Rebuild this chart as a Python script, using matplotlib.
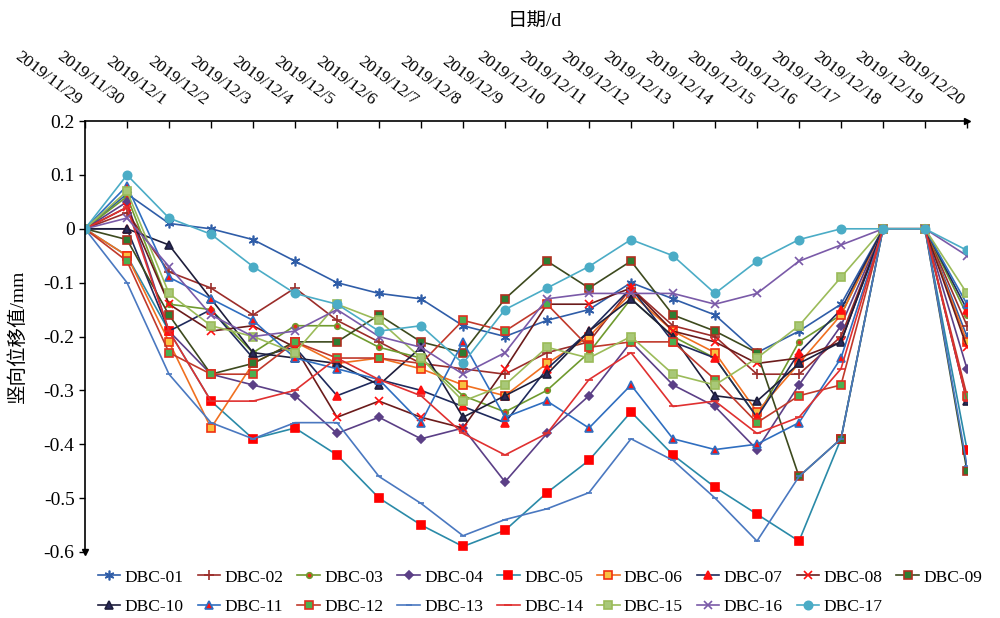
import numpy as np
import matplotlib
matplotlib.use('Agg')
import matplotlib.pyplot as plt
from matplotlib.transforms import ScaledTranslation

plt.rcParams['font.family'] = ['Liberation Serif', 'Noto Sans CJK SC']

dates = ['2019/11/29', '2019/11/30', '2019/12/1', '2019/12/2', '2019/12/3', '2019/12/4',
         '2019/12/5', '2019/12/6', '2019/12/7', '2019/12/8', '2019/12/9', '2019/12/10',
         '2019/12/11', '2019/12/12', '2019/12/13', '2019/12/14', '2019/12/15', '2019/12/16',
         '2019/12/17', '2019/12/18', '2019/12/19', '2019/12/20']

d01 = [0, 0.065, 0.01, 0.0, -0.02, -0.06, -0.10, -0.12, -0.13, -0.18, -0.20, -0.17, -0.15, -0.10, -0.13, -0.16, -0.23, -0.19, -0.14, 0, 0, -0.20]
d02 = [0, 0.03, -0.08, -0.11, -0.16, -0.11, -0.17, -0.21, -0.25, -0.26, -0.27, -0.23, -0.21, -0.11, -0.18, -0.20, -0.27, -0.27, -0.20, 0, 0, -0.18]
d03 = [0, 0.06, -0.14, -0.15, -0.23, -0.18, -0.18, -0.22, -0.24, -0.31, -0.34, -0.30, -0.23, -0.13, -0.20, -0.24, -0.35, -0.21, -0.16, 0, 0, -0.16]
d04 = [0, 0.05, -0.19, -0.27, -0.29, -0.31, -0.38, -0.35, -0.39, -0.37, -0.47, -0.38, -0.31, -0.21, -0.29, -0.33, -0.41, -0.29, -0.18, 0, 0, -0.26]
d05 = [0, -0.05, -0.19, -0.32, -0.39, -0.37, -0.42, -0.50, -0.55, -0.59, -0.56, -0.49, -0.43, -0.34, -0.42, -0.48, -0.53, -0.58, -0.39, 0, 0, -0.41]
d06 = [0, -0.05, -0.21, -0.37, -0.25, -0.21, -0.25, -0.24, -0.26, -0.29, -0.31, -0.25, -0.20, -0.12, -0.19, -0.23, -0.34, -0.25, -0.16, 0, 0, -0.21]
d07 = [0, 0.0, -0.19, -0.15, -0.24, -0.22, -0.31, -0.28, -0.30, -0.33, -0.36, -0.26, -0.19, -0.11, -0.21, -0.24, -0.35, -0.23, -0.15, 0, 0, -0.15]
d08 = [0, 0.04, -0.14, -0.19, -0.18, -0.22, -0.35, -0.32, -0.35, -0.37, -0.26, -0.14, -0.14, -0.11, -0.19, -0.21, -0.25, -0.24, -0.21, 0, 0, -0.22]
d09 = [0, -0.02, -0.16, -0.27, -0.25, -0.21, -0.21, -0.16, -0.21, -0.23, -0.13, -0.06, -0.11, -0.06, -0.16, -0.19, -0.23, -0.46, -0.39, 0, 0, -0.45]
d10 = [0, 0.0, -0.03, -0.13, -0.23, -0.24, -0.25, -0.29, -0.22, -0.35, -0.31, -0.27, -0.19, -0.13, -0.20, -0.31, -0.32, -0.25, -0.21, 0, 0, -0.32]
d11 = [0, 0.08, -0.09, -0.13, -0.17, -0.24, -0.26, -0.28, -0.36, -0.21, -0.35, -0.32, -0.37, -0.29, -0.39, -0.41, -0.40, -0.36, -0.24, 0, 0, -0.14]
d12 = [0, -0.06, -0.23, -0.27, -0.27, -0.21, -0.24, -0.24, -0.25, -0.17, -0.19, -0.14, -0.22, -0.21, -0.21, -0.28, -0.36, -0.31, -0.29, 0, 0, -0.31]
d13 = [0, -0.10, -0.27, -0.36, -0.39, -0.36, -0.36, -0.46, -0.51, -0.57, -0.54, -0.52, -0.49, -0.39, -0.43, -0.50, -0.58, -0.46, -0.39, 0, 0, -0.44]
d14 = [0, 0.04, -0.19, -0.32, -0.32, -0.30, -0.24, -0.28, -0.31, -0.38, -0.42, -0.38, -0.28, -0.23, -0.33, -0.32, -0.38, -0.35, -0.26, 0, 0, -0.32]
d15 = [0, 0.07, -0.12, -0.18, -0.20, -0.23, -0.14, -0.17, -0.24, -0.32, -0.29, -0.22, -0.24, -0.20, -0.27, -0.29, -0.24, -0.18, -0.09, 0, 0, -0.12]
d16 = [0, 0.02, -0.07, -0.16, -0.20, -0.19, -0.15, -0.20, -0.22, -0.27, -0.23, -0.13, -0.12, -0.12, -0.12, -0.14, -0.12, -0.06, -0.03, 0, 0, -0.05]
d17 = [0, 0.10, 0.02, -0.01, -0.07, -0.12, -0.14, -0.19, -0.18, -0.25, -0.15, -0.11, -0.07, -0.02, -0.05, -0.12, -0.06, -0.02, 0.0, 0, 0, -0.04]

names = ['DBC-%02d' % i for i in range(1, 18)]
series = [d01, d02, d03, d04, d05, d06, d07, d08, d09, d10, d11, d12, d13, d14, d15, d16, d17]

# line colour, marker, marker face, marker edge, marker size
styles = [
    ('#2F5DA8', (6, 2, 0), '#2F5DA8', '#2F5DA8', 7),
    ('#9B2D2A', '+', '#9B2D2A', '#9B2D2A', 7),
    ('#6F9A2E', 'o', '#E03020', '#6F9A2E', 4),
    ('#5B3F86', 'D', '#5B3F86', '#5B3F86', 4),
    ('#2A8AA8', 's', '#FF0000', '#FF0000', 6),
    ('#F07020', 's', '#F8C040', '#F03010', 6),
    ('#1F2A5C', '^', '#FF1010', '#FF1010', 6),
    ('#6B1B1B', 'x', '#FF1010', '#FF1010', 6),
    ('#3D4A1E', 's', '#2E7D32', '#B03020', 6),
    ('#1E1E3C', '^', '#2A2A5A', '#1E1E3C', 6),
    ('#2F6EC0', '^', '#FF1010', '#2F6EC0', 6),
    ('#C0392B', 's', '#4CAF50', '#E03020', 6),
    ('#4A78C0', '_', '#4A78C0', '#4A78C0', 5),
    ('#E03030', '_', '#E03030', '#E03030', 6),
    ('#9BBB59', 's', '#A8C878', '#9BBB59', 6),
    ('#7A5AA8', 'x', '#7A5AA8', '#7A5AA8', 6),
    ('#4BACC6', 'o', '#4BACC6', '#4BACC6', 6),
]

fig = plt.figure(figsize=(10, 6.18), dpi=100)
ax = fig.add_axes([0.085, 0.107, 0.882, 0.697])

x = np.arange(len(dates))
handles = []
for name, vals, (lc, mk, mfc, mec, ms) in zip(names, series, styles):
    h, = ax.plot(x, vals, color=lc, lw=1.2, marker=mk, markerfacecolor=mfc,
                 markeredgecolor=mec, markersize=ms, markeredgewidth=1.2, label=name)
    handles.append(h)

ax.set_xlim(0, len(dates) - 1)
ax.set_ylim(-0.6, 0.2)

yt = [0.2, 0.1, 0, -0.1, -0.2, -0.3, -0.4, -0.5, -0.6]
ax.set_yticks(yt)
ax.set_yticklabels(['%g' % v for v in yt], fontsize=14)
ax.tick_params(axis='y', direction='out', length=4, width=1)

ax.xaxis.tick_top()
ax.set_xticks(x)
ax.set_xticklabels(dates, rotation=-37, ha='right', va='bottom',
                   rotation_mode='anchor', fontsize=12.5)
ax.tick_params(axis='x', direction='in', length=5, width=1, pad=9)
shift = ScaledTranslation(-0.10, 0, fig.dpi_scale_trans)
for lab in ax.get_xticklabels():
    lab.set_transform(lab.get_transform() + shift)

ax.spines['right'].set_visible(False)
ax.spines['bottom'].set_visible(False)
ax.spines['top'].set_linewidth(1.2)
ax.spines['left'].set_linewidth(1.2)
ax.plot(1, 1, '>k', transform=ax.transAxes, clip_on=False, markersize=5)
ax.plot(0, 0, 'vk', transform=ax.transAxes, clip_on=False, markersize=5)

ax.set_ylabel('竖向位移值/mm', fontsize=14, labelpad=12)
fig.text(0.535, 0.98, '日期/d', ha='center', va='top', fontsize=14)

# legend read row by row: 01..09 on top, 10..17 below
order = [0, 9, 1, 10, 2, 11, 3, 12, 4, 13, 5, 14, 6, 15, 7, 16, 8]
fig.legend([handles[i] for i in order], [names[i] for i in order], ncol=9,
           loc='lower center', bbox_to_anchor=(0.54, -0.02), frameon=False,
           fontsize=12.5, handlelength=1.3, handletextpad=0.25, columnspacing=0.8,
           labelspacing=0.75)

fig.savefig('out.png', dpi=100)
